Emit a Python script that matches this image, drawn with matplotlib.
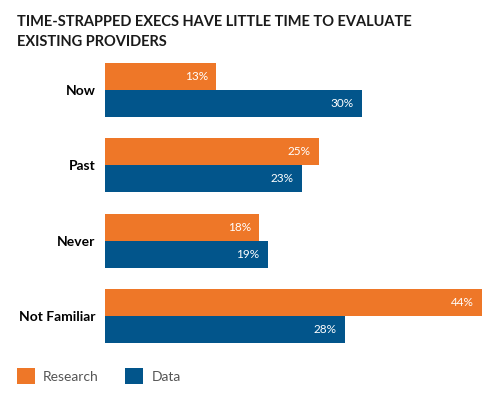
import matplotlib.pyplot as plt
import numpy as np

plt.rcParams['font.family'] = ['Lato', 'DejaVu Sans']

categories = ['Now', 'Past', 'Never', 'Not Familiar']
research = [13, 25, 18, 44]
data = [30, 23, 19, 28]
series_names = ['Research', 'Data']
colors = ['#EE7728', '#02558B']

fig = plt.figure(figsize=(5, 4), dpi=100)
ax = fig.add_axes([0.21, 1 - 343 / 400, 0.79, 280 / 400])

y = np.arange(len(categories))
h = 0.357
b1 = ax.barh(y - h / 2, research, height=h, color=colors[0], label=series_names[0])
b2 = ax.barh(y + h / 2, data, height=h, color=colors[1], label=series_names[1])

ax.set_xlim(0, 395 / 8.57)
ax.set_ylim(3 + h, -h)

for bars, vals in ((b1, research), (b2, data)):
    for bar, v in zip(bars, vals):
        ax.text(v - 1.0, bar.get_y() + bar.get_height() / 2, f'{v}%',
                ha='right', va='center', color='white', fontsize=8.5)

ax.set_yticks(y)
ax.set_yticklabels(categories, fontsize=10, fontweight='bold')
ax.tick_params(axis='y', length=0, pad=7)
ax.set_xticks([])
for s in ax.spines.values():
    s.set_visible(False)

fig.text(0.034, 0.962, 'TIME-STRAPPED EXECS HAVE LITTLE TIME TO EVALUATE\nEXISTING PROVIDERS',
         fontsize=10.5, fontweight='bold', va='top', ha='left', linespacing=1.5, color='#1a1a1a')

fig.legend(loc='lower left', bbox_to_anchor=(0.008, 0.01), ncol=2, frameon=False,
           fontsize=10, handlelength=1.3, handleheight=1.3, columnspacing=1.9,
           handletextpad=0.6, labelcolor='#555555')

fig.savefig('out.png', dpi=100)
